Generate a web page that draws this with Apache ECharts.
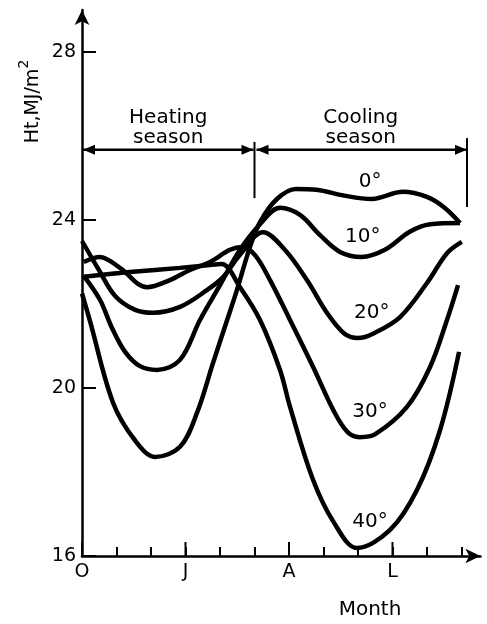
<!DOCTYPE html>
<html><head><meta charset="utf-8">
<script src="https://cdn.jsdelivr.net/npm/echarts@6/dist/echarts.min.js"></script>
<style>html,body{margin:0;padding:0;background:#fff}#c{width:487px;height:624px}</style>
</head><body><div id="c"></div>
<script>
// ---- data ----
const monthTicks = [0,1,2,3,4,5,6,7,8,9,10,11];
const majorMonths = [0,3,6,9];
const monthNames = {0:'O',3:'J',6:'A',9:'L'};
const yTicks = [16,20,24,28];
const seriesNames = ['0°','10°','20°','30°','40°'];
const tilt0 = [[0,22.25],[0.23,21.6],[0.9,19.65],[1.54,18.75],[2.12,18.36],[2.84,18.6],[3.33,19.4],[3.8,20.6],[4.2,21.6],[4.49,22.33],[4.87,23.36],[5.16,23.95],[5.65,24.5],[6.2,24.74],[6.8,24.72],[7.6,24.58],[8.4,24.5],[9.3,24.67],[10.0,24.55],[10.5,24.3],[10.96,23.93]];
const tilt10 = [[0.05,22.67],[0.52,22.1],[0.87,21.43],[1.25,20.86],[1.68,20.52],[2.17,20.43],[2.84,20.67],[3.42,21.62],[4.0,22.45],[4.58,23.29],[5.16,23.9],[5.74,24.29],[6.32,24.12],[6.9,23.64],[7.48,23.24],[8.1,23.12],[8.78,23.29],[9.5,23.72],[10.09,23.9],[10.96,23.93]];
const tilt20 = [[0,23.5],[0.49,22.81],[0.96,22.19],[1.54,21.86],[2.06,21.79],[2.84,21.93],[3.62,22.33],[4.09,22.64],[4.58,23.17],[5.25,23.71],[5.88,23.29],[6.52,22.57],[7.1,21.79],[7.6,21.3],[8.0,21.19],[8.45,21.3],[9.22,21.69],[10.0,22.5],[10.58,23.21],[11.01,23.48]];
const tilt30 = [[0.05,23.0],[0.52,23.12],[1.1,22.86],[1.88,22.4],[2.55,22.57],[3.13,22.81],[3.71,23.0],[4.29,23.29],[4.64,23.36],[5.01,23.17],[5.45,22.57],[6.03,21.62],[6.7,20.5],[7.3,19.45],[7.7,18.95],[8.05,18.83],[8.5,18.9],[9.42,19.55],[10.09,20.5],[10.58,21.62],[10.9,22.45]];
const tilt40 = [[0.05,22.65],[1.39,22.76],[2.84,22.86],[3.71,22.93],[4.05,22.95],[4.58,22.4],[5.16,21.62],[5.74,20.43],[6.03,19.55],[6.7,17.81],[7.3,16.8],[7.97,16.19],[8.93,16.62],[9.71,17.57],[10.38,19.0],[10.93,20.86]];
const curveLabelPos = [[8.35,24.9],[8.14,23.6],[8.4,21.79],[8.35,19.43],[8.35,16.81]];
const seasonArrowY = 25.67;
const seasonBounds = [0,5,11.16];
const seasonNames = ['Heating\nseason','Cooling\nseason'];

const FONT = 'DejaVu Sans';
const chart = echarts.init(document.getElementById('c'), null, {renderer:'canvas'});
const all = [tilt0,tilt10,tilt20,tilt30,tilt40];
const option = {
  animation:false,
  backgroundColor:'#fff',
  grid:{left:82, top:10, right:6.55, bottom:68, containLabel:false},
  xAxis:{type:'value', min:0, max:11.55,
    axisLine:{show:true, onZero:false, lineStyle:{color:'#000', width:2.5}, symbol:['none','arrow'], symbolSize:[11,15]},
    axisTick:{show:true, inside:true, length:9, lineStyle:{color:'#000', width:2}, customValues:monthTicks},
    axisLabel:{customValues:majorMonths, formatter:v=>monthNames[v]||'', color:'#000', fontSize:19, fontFamily:FONT, margin:7},
    splitLine:{show:false}},
  yAxis:{type:'value', min:16, max:29,
    axisLine:{show:true, onZero:false, lineStyle:{color:'#000', width:2.5}, symbol:['none','arrow'], symbolSize:[11,15]},
    axisTick:{show:true, inside:true, length:14, lineStyle:{color:'#000', width:2}, customValues:yTicks},
    axisLabel:{customValues:yTicks, color:'#000', fontSize:19, fontFamily:FONT, margin:6},
    splitLine:{show:false}},
  series: all.map((d,i)=>({type:'line', name:seriesNames[i], data:d, smooth:0.35, showSymbol:false, lineStyle:{color:'#000', width:4.5}}))
};
chart.setOption(option);

const px = p => chart.convertToPixel({gridIndex:0}, p);
const g = [];
const black = '#000';
majorMonths.forEach(m=>{ const a=px([m,16]); g.push({type:'line', shape:{x1:a[0],y1:a[1],x2:a[0],y2:a[1]-14}, style:{stroke:black, lineWidth:2}}); });
const ay = px([0,seasonArrowY])[1];
function arrowHead(x,y,dir){ const L=12,W=5; return {type:'polygon', shape:{points:[[x,y],[x-dir*L,y-W],[x-dir*L,y+W]]}, style:{fill:black}}; }
for(let s=0;s<2;s++){
  const x1=px([seasonBounds[s],seasonArrowY])[0], x2=px([seasonBounds[s+1],seasonArrowY])[0];
  const a1 = s===0? x1+1 : x1+2, a2 = s===0? x2-1 : x2;
  g.push({type:'line', shape:{x1:a1,y1:ay,x2:a2,y2:ay}, style:{stroke:black, lineWidth:2.5}});
  g.push(arrowHead(a1,ay,-1)); g.push(arrowHead(a2,ay,1));
  const cx=(x1+x2)/2;
  g.push({type:'text', x:cx, y:ay-42, style:{text:seasonNames[s], fill:black, font:'20px '+FONT, align:'center', verticalAlign:'top', lineHeight:20}});
}
[[5,24.52,25.86],[11.16,24.31,25.95]].forEach(([m,v1,v2])=>{ const a=px([m,v1]), b=px([m,v2]); g.push({type:'line', shape:{x1:a[0],y1:a[1],x2:b[0],y2:b[1]}, style:{stroke:black, lineWidth:2}}); });
curveLabelPos.forEach((p,i)=>{ const a=px(p); g.push({type:'text', x:a[0], y:a[1], style:{text:seriesNames[i], fill:black, font:'20px '+FONT, align:'center', verticalAlign:'middle'}}); });
g.push({type:'text', x:370, y:610, style:{text:'Month', fill:black, font:'20px '+FONT, align:'center', verticalAlign:'middle'}});
g.push({type:'text', x:33, y:106, rotation:Math.PI/2, style:{text:'Ht,MJ/m', fill:black, font:'19px '+FONT, align:'center', verticalAlign:'middle'}});
g.push({type:'text', x:24, y:64, rotation:Math.PI/2, style:{text:'2', fill:black, font:'14px '+FONT, align:'center', verticalAlign:'middle'}});
chart.setOption({graphic:g});
</script></body></html>
